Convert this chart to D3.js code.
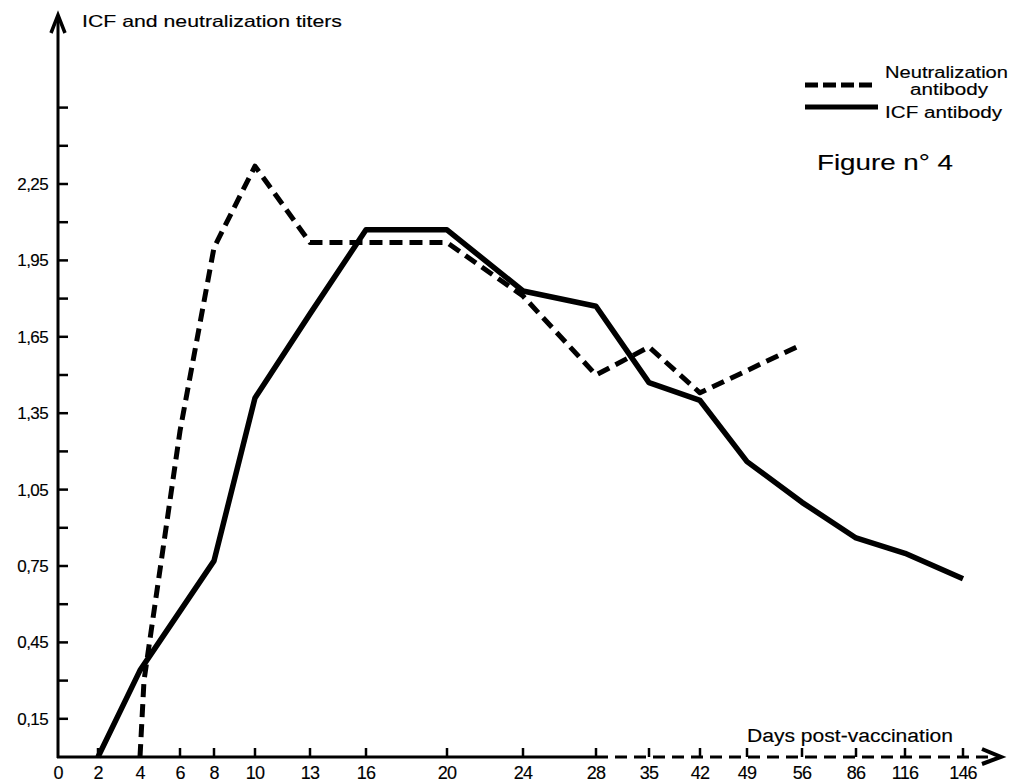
<!DOCTYPE html>
<html>
<head>
<meta charset="utf-8">
<script src="https://cdn.jsdelivr.net/npm/d3@7"></script>
<style>
  html, body { margin: 0; padding: 0; background: #fff; }
  svg { display: block; }
  text { font-family: "Liberation Sans", Arial, sans-serif; fill: #000; stroke: #000; stroke-width: 0.15px; }
</style>
</head>
<body>
<svg id="chart" width="1014" height="783"></svg>
<script>
// Days post-vaccination shown on the horizontal axis
const days = [0, 2, 4, 6, 8, 10, 13, 16, 20, 24, 28, 35, 42, 49, 56, 86, 116, 146];
// Irregular spacing of the day ticks along the axis (px)
const dayPositions = [58, 98, 140, 180, 214, 255, 310, 366, 447, 523, 596, 649, 700, 747, 802, 856, 905, 963];

// Titer ticks (every 0.15) and the labelled ones
const titerTicks = [0.15, 0.30, 0.45, 0.60, 0.75, 0.90, 1.05, 1.20, 1.35, 1.50, 1.65, 1.80, 1.95, 2.10, 2.25, 2.40, 2.55];
const titerLabels = [0.15, 0.45, 0.75, 1.05, 1.35, 1.65, 1.95, 2.25];

// Neutralization antibody (dashed)
const neutDays   = [4, 4.2, 6, 8, 10, 13, 16, 20, 24, 28, 35, 42, 56];
const neutValues = [0, 0.30, 1.28, 2.00, 2.32, 2.02, 2.02, 2.02, 1.81, 1.50, 1.61, 1.43, 1.62];

// ICF antibody (solid)
const icfDays   = [2, 4, 8, 10, 13, 16, 20, 24, 28, 35, 42, 49, 56, 86, 116, 146];
const icfValues = [0, 0.34, 0.77, 1.41, 1.74, 2.07, 2.07, 1.83, 1.77, 1.47, 1.40, 1.16, 1.00, 0.86, 0.80, 0.70];

const svg = d3.select("#chart");

const x = d3.scaleLinear().domain(days).range(dayPositions);
const y = d3.scaleLinear().domain([0, 2.25]).range([757, 184]);

const fmt = v => d3.format(".2f")(v).replace(".", ",");

// ---- vertical axis ----
const x0 = x(0), yBase = y(0);
svg.append("line")
  .attr("x1", x0).attr("x2", x0).attr("y1", yBase + 1).attr("y2", 16)
  .attr("stroke", "#000").attr("stroke-width", 3);
svg.append("path")
  .attr("d", `M${x0 - 7},33 L${x0},15 L${x0 + 7},33`)
  .attr("fill", "none").attr("stroke", "#000").attr("stroke-width", 3.5)
  .attr("stroke-linejoin", "miter");

svg.append("g").selectAll("line").data(titerTicks).join("line")
  .attr("x1", x0).attr("x2", x0 + 10)
  .attr("y1", d => y(d)).attr("y2", d => y(d))
  .attr("stroke", "#000").attr("stroke-width", 2.5);

svg.append("g").selectAll("text").data(titerLabels).join("text")
  .attr("x", 48).attr("y", d => y(d) + 6)
  .attr("text-anchor", "end")
  .attr("font-size", 17)
  .attr("letter-spacing", -0.6)
  .text(fmt);

svg.append("text")
  .attr("x", 82).attr("y", 27)
  .attr("font-size", 16.5)
  .attr("textLength", 260).attr("lengthAdjust", "spacingAndGlyphs")
  .text("ICF and neutralization titers");

// ---- horizontal axis: solid up to day 28, dashed beyond ----
svg.append("line")
  .attr("x1", x0 - 1).attr("x2", x(28)).attr("y1", yBase).attr("y2", yBase)
  .attr("stroke", "#000").attr("stroke-width", 3);
svg.append("line")
  .attr("x1", x(28)).attr("x2", 992).attr("y1", yBase).attr("y2", yBase)
  .attr("stroke", "#000").attr("stroke-width", 3)
  .attr("stroke-dasharray", "12,7");
svg.append("path")
  .attr("d", `M982,${yBase - 8} L1001,${yBase} L982,${yBase + 7}`)
  .attr("fill", "none").attr("stroke", "#000").attr("stroke-width", 4);

svg.append("g").selectAll("line").data(days.filter(d => d > 0)).join("line")
  .attr("x1", d => x(d)).attr("x2", d => x(d))
  .attr("y1", yBase).attr("y2", yBase - 9)
  .attr("stroke", "#000").attr("stroke-width", 2.5);

svg.append("g").selectAll("text").data(days).join("text")
  .attr("x", d => x(d)).attr("y", 779)
  .attr("text-anchor", "middle")
  .attr("font-size", 18)
  .attr("letter-spacing", -0.8)
  .text(d => d);

svg.append("text")
  .attr("x", 747).attr("y", 742)
  .attr("font-size", 18)
  .attr("textLength", 206).attr("lengthAdjust", "spacingAndGlyphs")
  .text("Days post-vaccination");

// ---- curves ----
const line = d3.line().x(d => x(d[0])).y(d => y(d[1]));

svg.append("path")
  .datum(d3.zip(neutDays, neutValues))
  .attr("d", line)
  .attr("fill", "none").attr("stroke", "#000").attr("stroke-width", 5)
  .attr("stroke-dasharray", "13,7")
  .attr("stroke-linejoin", "round");

svg.append("path")
  .datum(d3.zip(icfDays, icfValues))
  .attr("d", line)
  .attr("fill", "none").attr("stroke", "#000").attr("stroke-width", 5.5)
  .attr("stroke-linejoin", "round");

// ---- legend ----
svg.append("line")
  .attr("x1", 805).attr("x2", 872).attr("y1", 85).attr("y2", 85)
  .attr("stroke", "#000").attr("stroke-width", 5)
  .attr("stroke-dasharray", "13,5");
svg.append("line")
  .attr("x1", 805).attr("x2", 878).attr("y1", 107).attr("y2", 107)
  .attr("stroke", "#000").attr("stroke-width", 5);

svg.append("text").attr("x", 885).attr("y", 78).attr("font-size", 16)
  .attr("textLength", 123).attr("lengthAdjust", "spacingAndGlyphs")
  .text("Neutralization");
svg.append("text").attr("x", 910).attr("y", 95).attr("font-size", 16)
  .attr("textLength", 78).attr("lengthAdjust", "spacingAndGlyphs")
  .text("antibody");
svg.append("text").attr("x", 885).attr("y", 118).attr("font-size", 16)
  .attr("textLength", 117).attr("lengthAdjust", "spacingAndGlyphs")
  .text("ICF antibody");

svg.append("text").attr("x", 817).attr("y", 170).attr("font-size", 22)
  .attr("textLength", 136).attr("lengthAdjust", "spacingAndGlyphs")
  .text("Figure n° 4");
</script>
</body>
</html>
